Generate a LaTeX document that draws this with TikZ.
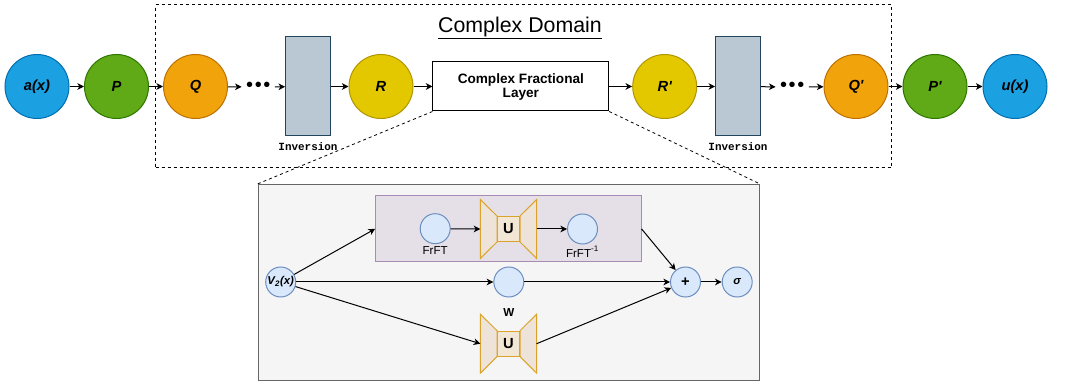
\documentclass[tikz,border=0pt]{standalone}
\usepackage{fontspec}
\setmainfont{Liberation Sans}
\setmonofont{Liberation Mono}
\usetikzlibrary{arrows.meta}
\definecolor{blueF}{HTML}{1BA1E2}\definecolor{blueD}{HTML}{006EAF}
\definecolor{greenF}{HTML}{60A917}\definecolor{greenD}{HTML}{2D7600}
\definecolor{orangeF}{HTML}{F0A30A}\definecolor{orangeD}{HTML}{BD7000}
\definecolor{yellowF}{HTML}{E3C800}\definecolor{yellowD}{HTML}{B09500}
\definecolor{invF}{HTML}{BAC8D3}\definecolor{invD}{HTML}{23445D}
\definecolor{smallF}{HTML}{DAE8FC}\definecolor{smallD}{HTML}{6C8EBF}
\definecolor{unetF}{HTML}{EDE3D8}\definecolor{unetS}{HTML}{F2E6D5}\definecolor{unetD}{HTML}{DCA32C}
\definecolor{specF}{HTML}{E5E0E8}\definecolor{specD}{HTML}{A88BB4}
\definecolor{zoomF}{HTML}{F5F5F5}\definecolor{zoomD}{HTML}{666666}
\tikzset{
  layer/.style 2 args={circle,draw=#1,fill=#2,minimum size=48pt,inner sep=0pt,
    font=\fontsize{11}{12}\selectfont\bfseries\itshape},
  invbox/.style={draw=invD,fill=invF,minimum width=33.5pt,minimum height=74.25pt,inner sep=0pt,
    label={[font=\fontsize{8.2}{9}\selectfont\ttfamily\bfseries,label distance=1pt]below:Inversion}},
  dots/.style={inner sep=3pt,font=\fontsize{15}{15}\selectfont},
  small/.style={circle,draw=smallD,fill=smallF,minimum size=22.5pt,inner sep=0pt,
    font=\fontsize{8.5}{10}\selectfont\bfseries\itshape},
  lab/.style={font=\fontsize{8.7}{10}\selectfont,inner sep=1pt},
  unet/.style={minimum width=41.5pt,minimum height=43.5pt,inner sep=0pt},
  unetin/.style={draw=unetD,fill=unetS,minimum width=16.5pt,minimum height=18.75pt,inner sep=0pt,
    font=\fontsize{11}{12}\selectfont\bfseries},
  wing/.style={draw=unetD,fill=unetF},
  zoomline/.style={dash pattern=on 2.25pt off 2.25pt,line width=0.6pt},
}
\begin{document}
\begin{tikzpicture}[>={Stealth[length=5pt,width=5pt,inset=1.5pt]},x=0.75pt,y=-0.75pt,line width=0.75pt]
  \useasboundingbox (0,0) rectangle (1065,381);
  % complex domain frame
  \node[draw,dash pattern=on 2.25pt off 2.25pt,line width=0.6pt,minimum width=552pt,minimum height=122.25pt] (domain) at (523.7,86.2) {};
  \node[font=\fontsize{16}{18}\selectfont] (title) at (520,28) {\underline{Complex Domain}};
  % top row
  \node[layer={blueD}{blueF}] (a) at (37,86.5) {a(x)};
  \node[layer={greenD}{greenF}] (p) at (116.5,86.5) {P};
  \node[layer={orangeD}{orangeF}] (q) at (195.5,86.5) {Q};
  \node[dots] (dots1) at (258.3,87) {\textbullet\kern1.2pt\textbullet\kern1.2pt\textbullet};
  \node[invbox] (inv1) at (308,86.5) {};
  \node[layer={yellowD}{yellowF}] (r) at (381,86.5) {R};
  \node[draw,fill=white,minimum width=131.8pt,minimum height=36.75pt,align=center,
    font=\fontsize{10.2}{10.5}\selectfont\bfseries] (cfl) at (520.85,86.5) {Complex Fractional\\Layer};
  \node[layer={yellowD}{yellowF}] (rp) at (664.7,86.5) {R\textquotesingle};
  \node[invbox] (inv2) at (738,86.5) {};
  \node[dots] (dots2) at (792.2,87) {\textbullet\kern1.2pt\textbullet\kern1.2pt\textbullet};
  \node[layer={orangeD}{orangeF}] (qp) at (856,86.5) {Q\textquotesingle};
  \node[layer={greenD}{greenF}] (pp) at (935,86.5) {P\textquotesingle};
  \node[layer={blueD}{blueF}] (u) at (1015,86.5) {u(x)};
  \foreach \s/\t in {a/p,p/q,q/dots1,dots1/inv1,inv1/r,r/cfl,cfl/rp,rp/inv2,inv2/dots2,dots2/qp,qp/pp,pp/u}
    \draw[->] (\s) -- (\t);
  % zoomed layer
  \node[draw=zoomD,fill=zoomF,minimum width=375.75pt,minimum height=146.8pt] (zoom) at (508.8,282.2) {};
  \draw[zoomline] (cfl.south west) -- (zoom.north west);
  \draw[zoomline] (cfl.south east) -- (zoom.north east);
  \node[draw=specD,fill=specF,minimum width=199pt,minimum height=49.3pt] (spec) at (508.35,228.85) {};
  \node[small,label={[lab]below:FrFT}] (frft) at (435.2,228.7) {};
  \node[small,label={[lab]below:FrFT\textsuperscript{-1}}] (ifrft) at (582.5,229) {};
  \node[unet] (u1) at (508.5,229) {};
  \node[unetin] (u1in) at (u1) {U};
  \node[small] (v2) at (280.7,282) {V\textsubscript{2}(x)};
  \node[small,label={[lab,font=\fontsize{8.7}{10}\selectfont\bfseries,label distance=7pt]below:W}] (w) at (508.8,282) {};
  \node[unet] (u2) at (508.5,343.7) {};
  \node[unetin] (u2in) at (u2) {U};
  \node[small,font=\fontsize{11}{12}\selectfont\bfseries] (plus) at (685.5,282) {+};
  \node[small] (sigma) at (737.2,282) {σ};
  \foreach \blk in {u1,u2} {
    \draw[wing] (\blk.north west) -- (\blk in.north west) -- (\blk in.south west) -- (\blk.south west) -- cycle;
    \draw[wing] (\blk.north east) -- (\blk in.north east) -- (\blk in.south east) -- (\blk.south east) -- cycle;
  }
  \draw[->] (frft) -- (u1.west);
  \draw[->] (u1.east) -- (ifrft);
  \draw[->] (v2) -- (spec.west);
  \draw[->] (v2) -- (w);
  \draw[->] (v2) -- (u2.west);
  \draw[->] (spec.east) -- (plus);
  \draw[->] (w) -- (plus);
  \draw[->] (u2.east) -- (plus);
  \draw[->] (plus) -- (sigma);
\end{tikzpicture}
\end{document}
